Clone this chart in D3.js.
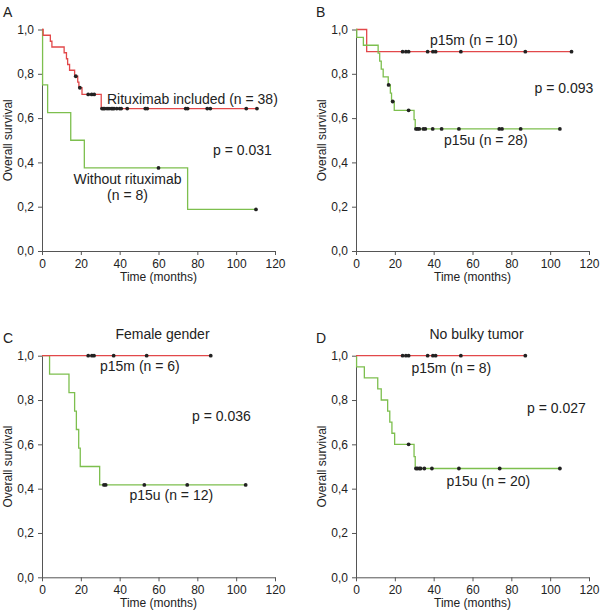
<!DOCTYPE html>
<html>
<head>
<meta charset="utf-8">
<script src="https://cdn.jsdelivr.net/npm/d3@7"></script>
<style>
  body { margin: 0; background: #fff; }
  svg { display: block; font-family: "Liberation Sans", Arial, sans-serif; }
</style>
</head>
<body>
<svg id="chart" width="600" height="611"></svg>
<script>
// ---------- data ----------
const xTicks = [0, 20, 40, 60, 80, 100, 120];
const yTicks = [0, 0.2, 0.4, 0.6, 0.8, 1.0];
const yTickLabels = ["0,0", "0,2", "0,4", "0,6", "0,8", "1,0"];
const panelLetters = ["A", "B", "C", "D"];
const panelTitles = ["", "", "Female gender", "No bulky tumor"];
const xAxisTitle = "Time (months)";
const yAxisTitle = "Overall survival";

// Panel A
const aRedTimes = [0, 0.6, 4.3, 5.1, 11.4, 12.6, 13.2, 14.2, 16.8, 18.4, 19.0, 20.6, 30.5, 110.7];
const aRedSurv  = [1, 0.974, 0.947, 0.921, 0.895, 0.868, 0.842, 0.816, 0.789, 0.762, 0.737, 0.707, 0.643, 0.643];
const aRedCens  = [17.4, 19.5, 23.8, 25.6, 26.9, 30.9, 31.6, 32.3, 33.5, 34.5, 35.7, 36.4, 37.1, 38.5, 40.0, 40.8, 43.9, 53.2, 54.2, 74.0, 75.0, 85.1, 86.7, 105.2, 110.7];
const aGreenTimes = [0, 0.3, 2.9, 14.8, 21.8, 75.0, 110.2];
const aGreenSurv  = [1, 0.75, 0.625, 0.5, 0.375, 0.1875, 0.1875];
const aGreenCens  = [60.0, 110.2];

// Panel B
const bRedTimes = [0, 5.5, 111.0];
const bRedSurv  = [1, 0.9, 0.9];
const bRedCens  = [24.0, 25.7, 27.1, 36.9, 39.6, 41.0, 54.0, 87.2, 111.0];
const bGreenTimes = [0, 0.4, 3.8, 11.4, 12.2, 13.0, 14.0, 16.6, 17.7, 18.3, 19.7, 29.9, 30.5, 105.0];
const bGreenSurv  = [1, 0.964, 0.929, 0.893, 0.857, 0.821, 0.786, 0.75, 0.7125, 0.675, 0.635, 0.593, 0.551, 0.551];
const bGreenCens  = [16.8, 18.9, 27.1, 30.9, 31.7, 32.6, 34.7, 35.7, 39.5, 44.1, 53.0, 73.8, 75.2, 84.8, 105.0];

// Panel C
const cRedTimes = [0, 86.9];
const cRedSurv  = [1, 1];
const cRedCens  = [23.8, 25.7, 26.8, 36.9, 53.9, 86.9];
const cGreenTimes = [0, 3.9, 13.9, 16.8, 17.7, 18.9, 19.7, 29.7, 104.9];
const cGreenSurv  = [1, 0.917, 0.833, 0.75, 0.667, 0.583, 0.5, 0.417, 0.417];
const cGreenCens  = [31.9, 32.8, 52.7, 74.8, 104.9];

// Panel D
const dRedTimes = [0, 87.2];
const dRedSurv  = [1, 1];
const dRedCens  = [24.0, 25.7, 27.1, 36.9, 39.6, 41.0, 54.0, 87.2];
const dGreenTimes = [0, 0.3, 4.3, 11.2, 13.0, 16.3, 17.4, 18.5, 19.9, 29.9, 30.5, 105.0];
const dGreenSurv  = [1, 0.95, 0.9, 0.85, 0.8, 0.75, 0.7, 0.65, 0.6, 0.545, 0.491, 0.491];
const dGreenCens  = [27.1, 30.9, 31.6, 32.6, 33.3, 35.2, 39.1, 53.0, 74.0, 105.0];

// Annotations: [text, x, y, anchor] per panel
const annotationsA = [["Rituximab included (n = 38)", 107, 103.5, "start"], ["p = 0.031", 213, 155, "start"], ["Without rituximab", 127.5, 184, "middle"], ["(n = 8)", 127.5, 200, "middle"]];
const annotationsB = [["p15m (n = 10)", 430, 44.5, "start"], ["p = 0.093", 534.5, 92.5, "start"], ["p15u (n = 28)", 444, 145, "start"]];
const annotationsC = [["p15m (n = 6)", 100, 371, "start"], ["p = 0.036", 192, 421, "start"], ["p15u (n = 12)", 129.5, 500, "start"]];
const annotationsD = [["p15m (n = 8)", 411.5, 373, "start"], ["p = 0.027", 527, 413, "start"], ["p15u (n = 20)", 446.5, 486, "start"]];

// ---------- drawing ----------
const RED = "#e2484a", GREEN = "#7dbf4e", AXIS = "#555", TEXT = "#222";
const svg = d3.select("#chart");

const panels = [
  { x0: 42,  x1: 275, y0: 251,   y1: 29.5,  lx: 3,   ly: 17,  ty: 0,
    red: [aRedTimes, aRedSurv, aRedCens], green: [aGreenTimes, aGreenSurv, aGreenCens], ann: annotationsA, redOnTop: true },
  { x0: 356, x1: 589, y0: 251,   y1: 29.5,  lx: 316, ly: 17,  ty: 0,
    red: [bRedTimes, bRedSurv, bRedCens], green: [bGreenTimes, bGreenSurv, bGreenCens], ann: annotationsB, redOnTop: false },
  { x0: 42,  x1: 275, y0: 577.3, y1: 355.7, lx: 3,   ly: 343, ty: 339,
    red: [cRedTimes, cRedSurv, cRedCens], green: [cGreenTimes, cGreenSurv, cGreenCens], ann: annotationsC, redOnTop: true },
  { x0: 356, x1: 589, y0: 577.3, y1: 355.7, lx: 316, ly: 343, ty: 339,
    red: [dRedTimes, dRedSurv, dRedCens], green: [dGreenTimes, dGreenSurv, dGreenCens], ann: annotationsD, redOnTop: true }
];

function stepValue(times, surv, t) {
  let v = surv[0];
  for (let i = 0; i < times.length; i++) if (times[i] <= t) v = surv[i];
  return v;
}

panels.forEach((p, pi) => {
  const g = svg.append("g");
  const x = d3.scaleLinear().domain([0, 120]).range([p.x0, p.x1]);
  const y = d3.scaleLinear().domain([0, 1]).range([p.y0, p.y1]);

  // axes
  const xAxis = d3.axisBottom(x).tickValues(xTicks).tickSize(4).tickPadding(4).tickSizeOuter(0);
  const yAxis = d3.axisLeft(y).tickValues(yTicks).tickSize(4).tickPadding(4).tickSizeOuter(0)
    .tickFormat((d, i) => yTickLabels[i]);
  const gx = g.append("g").attr("transform", `translate(0,${p.y0})`).call(xAxis);
  const gy = g.append("g").attr("transform", `translate(${p.x0},0)`).call(yAxis);
  [gx, gy].forEach(a => {
    a.selectAll("path, line").attr("stroke", AXIS).attr("stroke-width", 1);
    a.selectAll("text").attr("fill", TEXT).style("font-size", "12px").style("font-family", "Liberation Sans, Arial, sans-serif");
  });

  // axis titles
  g.append("text").attr("x", (p.x0 + p.x1) / 2).attr("y", p.y0 + 30)
    .attr("text-anchor", "middle").attr("fill", TEXT).style("font-size", "12px").text(xAxisTitle);
  g.append("text").attr("transform", `translate(${p.x0 - 30},${(p.y0 + p.y1) / 2}) rotate(-90)`)
    .attr("text-anchor", "middle").attr("fill", TEXT).style("font-size", "12px").text(yAxisTitle);

  // panel letter and title
  g.append("text").attr("x", p.lx).attr("y", p.ly).attr("fill", TEXT).style("font-size", "14px").text(panelLetters[pi]);
  if (panelTitles[pi]) {
    g.append("text").attr("x", (p.x0 + p.x1) / 2 + 4).attr("y", p.ty).attr("text-anchor", "middle")
      .attr("fill", TEXT).style("font-size", "14px").text(panelTitles[pi]);
  }

  // curves
  const line = d3.line().x(d => x(d[0])).y(d => y(d[1])).curve(d3.curveStepAfter);
  const drawCurve = (series, color) => {
    const [times, surv, cens] = series;
    const pts = times.map((t, i) => [t, surv[i]]);
    g.append("path").datum(pts).attr("d", line).attr("fill", "none")
      .attr("stroke", color).attr("stroke-width", 1.3);
    g.append("g").selectAll("circle").data(cens).join("circle")
      .attr("cx", d => x(d)).attr("cy", d => y(stepValue(times, surv, d)))
      .attr("r", 1.9).attr("fill", "#222");
  };
  if (p.redOnTop) { drawCurve(p.green, GREEN); drawCurve(p.red, RED); }
  else { drawCurve(p.red, RED); drawCurve(p.green, GREEN); }

  // annotations
  g.append("g").selectAll("text").data(p.ann).join("text")
    .attr("x", d => d[1]).attr("y", d => d[2]).attr("text-anchor", d => d[3])
    .attr("fill", TEXT).style("font-size", "14px").text(d => d[0]);
});
</script>
</body>
</html>
